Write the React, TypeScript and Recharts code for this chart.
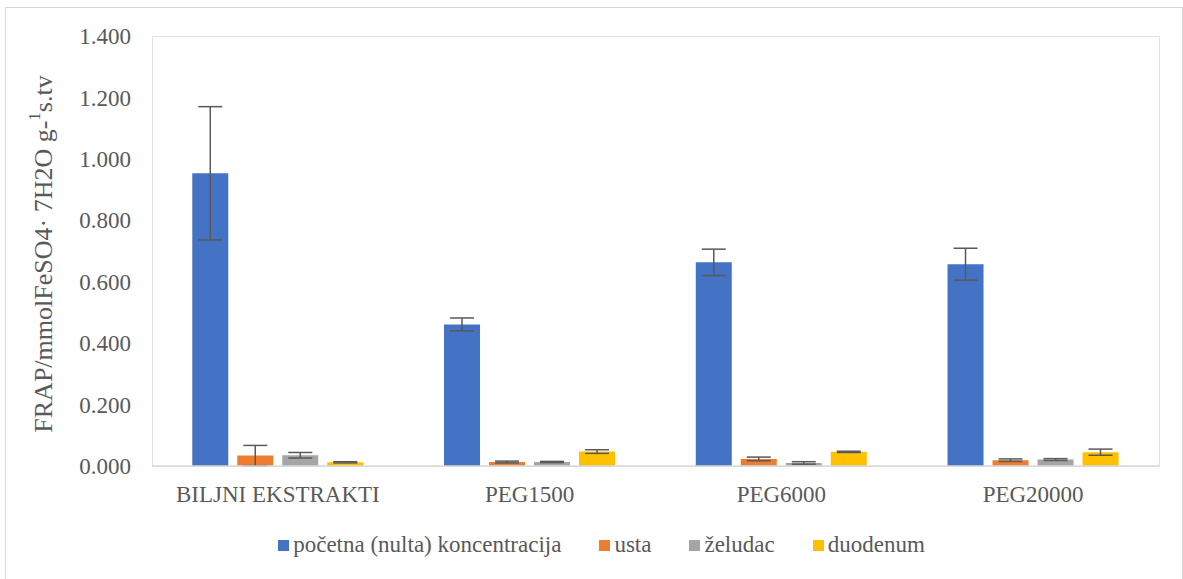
import React from 'react';
import { BarChart, Bar, XAxis, YAxis, Legend, ErrorBar } from 'recharts';

const categories = ['BILJNI EKSTRAKTI', 'PEG1500', 'PEG6000', 'PEG20000'];
const pocetna = [0.953, 0.461, 0.663, 0.657];
const pocetnaErr = [0.217, 0.021, 0.043, 0.052];
const usta = [0.034, 0.013, 0.023, 0.019];
const ustaErr = [0.033, 0.003, 0.006, 0.004];
const zeludac = [0.035, 0.013, 0.010, 0.021];
const zeludacErr = [0.009, 0.002, 0.004, 0.003];
const duodenum = [0.012, 0.047, 0.046, 0.045];
const duodenumErr = [0.002, 0.006, 0.002, 0.010];
const yTicks = [0, 0.2, 0.4, 0.6, 0.8, 1.0, 1.2, 1.4];

const FONT = 'Liberation Serif, Tinos, DejaVu Serif, Times New Roman, serif';
const TEXT = '#595959';

const series = [
  { key: 'pocetna', err: 'pocetnaErr', name: 'početna (nulta) koncentracija', color: '#4472C4' },
  { key: 'usta', err: 'ustaErr', name: 'usta', color: '#ED7D31' },
  { key: 'zeludac', err: 'zeludacErr', name: 'želudac', color: '#A5A5A5' },
  { key: 'duodenum', err: 'duodenumErr', name: 'duodenum', color: '#FFC000' },
];

const data = categories.map((name, i) => ({
  name,
  pocetna: pocetna[i],
  pocetnaErr: pocetnaErr[i],
  usta: usta[i],
  ustaErr: ustaErr[i],
  zeludac: zeludac[i],
  zeludacErr: zeludacErr[i],
  duodenum: duodenum[i],
  duodenumErr: duodenumErr[i],
}));

// legend in series order (recharts sorts the payload by name)
function LegendContent() {
  return (
    <div style={{ display: 'flex', justifyContent: 'center', paddingLeft: 20, fontFamily: FONT, fontSize: 23, color: TEXT }}>
      {series.map((s, i) => (
        <div key={s.key} style={{ display: 'flex', alignItems: 'center', marginRight: i < series.length - 1 ? 38 : 0 }}>
          <span style={{ display: 'inline-block', width: 11, height: 11, background: s.color, marginRight: 4 }} />
          <span>{s.name}</span>
        </div>
      ))}
    </div>
  );
}

export default function App() {
  return (
    <div style={{ position: 'absolute', left: 0, top: 0, width: 1183, height: 579, overflow: 'hidden', background: '#fff' }}>
      <div style={{ position: 'absolute', left: 5, top: 7, width: 1176, height: 600, border: '1px solid #d9d9d9' }} />
      <div style={{ position: 'absolute', left: 152, top: 36, width: 1006, height: 429, border: '1px solid #e3e3e3' }} />
      <BarChart
        width={1183}
        height={579}
        data={data}
        margin={{ top: 36, right: 24, left: 0, bottom: 53 }}
        barCategoryGap="16%"
        barGap={9}
      >
        <XAxis
          dataKey="name"
          height={60}
          tickLine={false}
          tickSize={0}
          tickMargin={20}
          axisLine={{ stroke: '#d9d9d9', strokeWidth: 1.5 }}
          tick={{ fill: TEXT, fontFamily: FONT, fontSize: 23 }}
        />
        <YAxis
          width={152}
          domain={[0, 1.4]}
          ticks={yTicks}
          tickFormatter={(v: number) => v.toFixed(3)}
          axisLine={false}
          tickLine={false}
          tickSize={0}
          tickMargin={21}
          tick={{ fill: TEXT, fontFamily: FONT, fontSize: 23 }}
        />
        <Legend
          layout="horizontal"
          verticalAlign="middle"
          align="center"
          content={<LegendContent />}
          wrapperStyle={{ top: 532, left: 0, width: 1183 }}
        />
        {series.map((s) => (
          <Bar key={s.key} dataKey={s.key} name={s.name} fill={s.color} isAnimationActive={false}>
            <ErrorBar dataKey={s.err} width={12} stroke="#595959" strokeWidth={1.5} direction="y" />
          </Bar>
        ))}
      </BarChart>
      <svg width={100} height={579} style={{ position: 'absolute', left: 0, top: 0 }}>
        <text
          x={43}
          y={254}
          transform="rotate(-90, 43, 254)"
          textAnchor="middle"
          dominantBaseline="central"
          fill={TEXT}
          fontFamily={FONT}
          fontSize={26}
        >
          FRAP/mmolFeSO4· 7H2O  g-<tspan dy={-9} fontSize={17}>1</tspan><tspan dy={9}>s.tv</tspan>
        </text>
      </svg>
    </div>
  );
}
